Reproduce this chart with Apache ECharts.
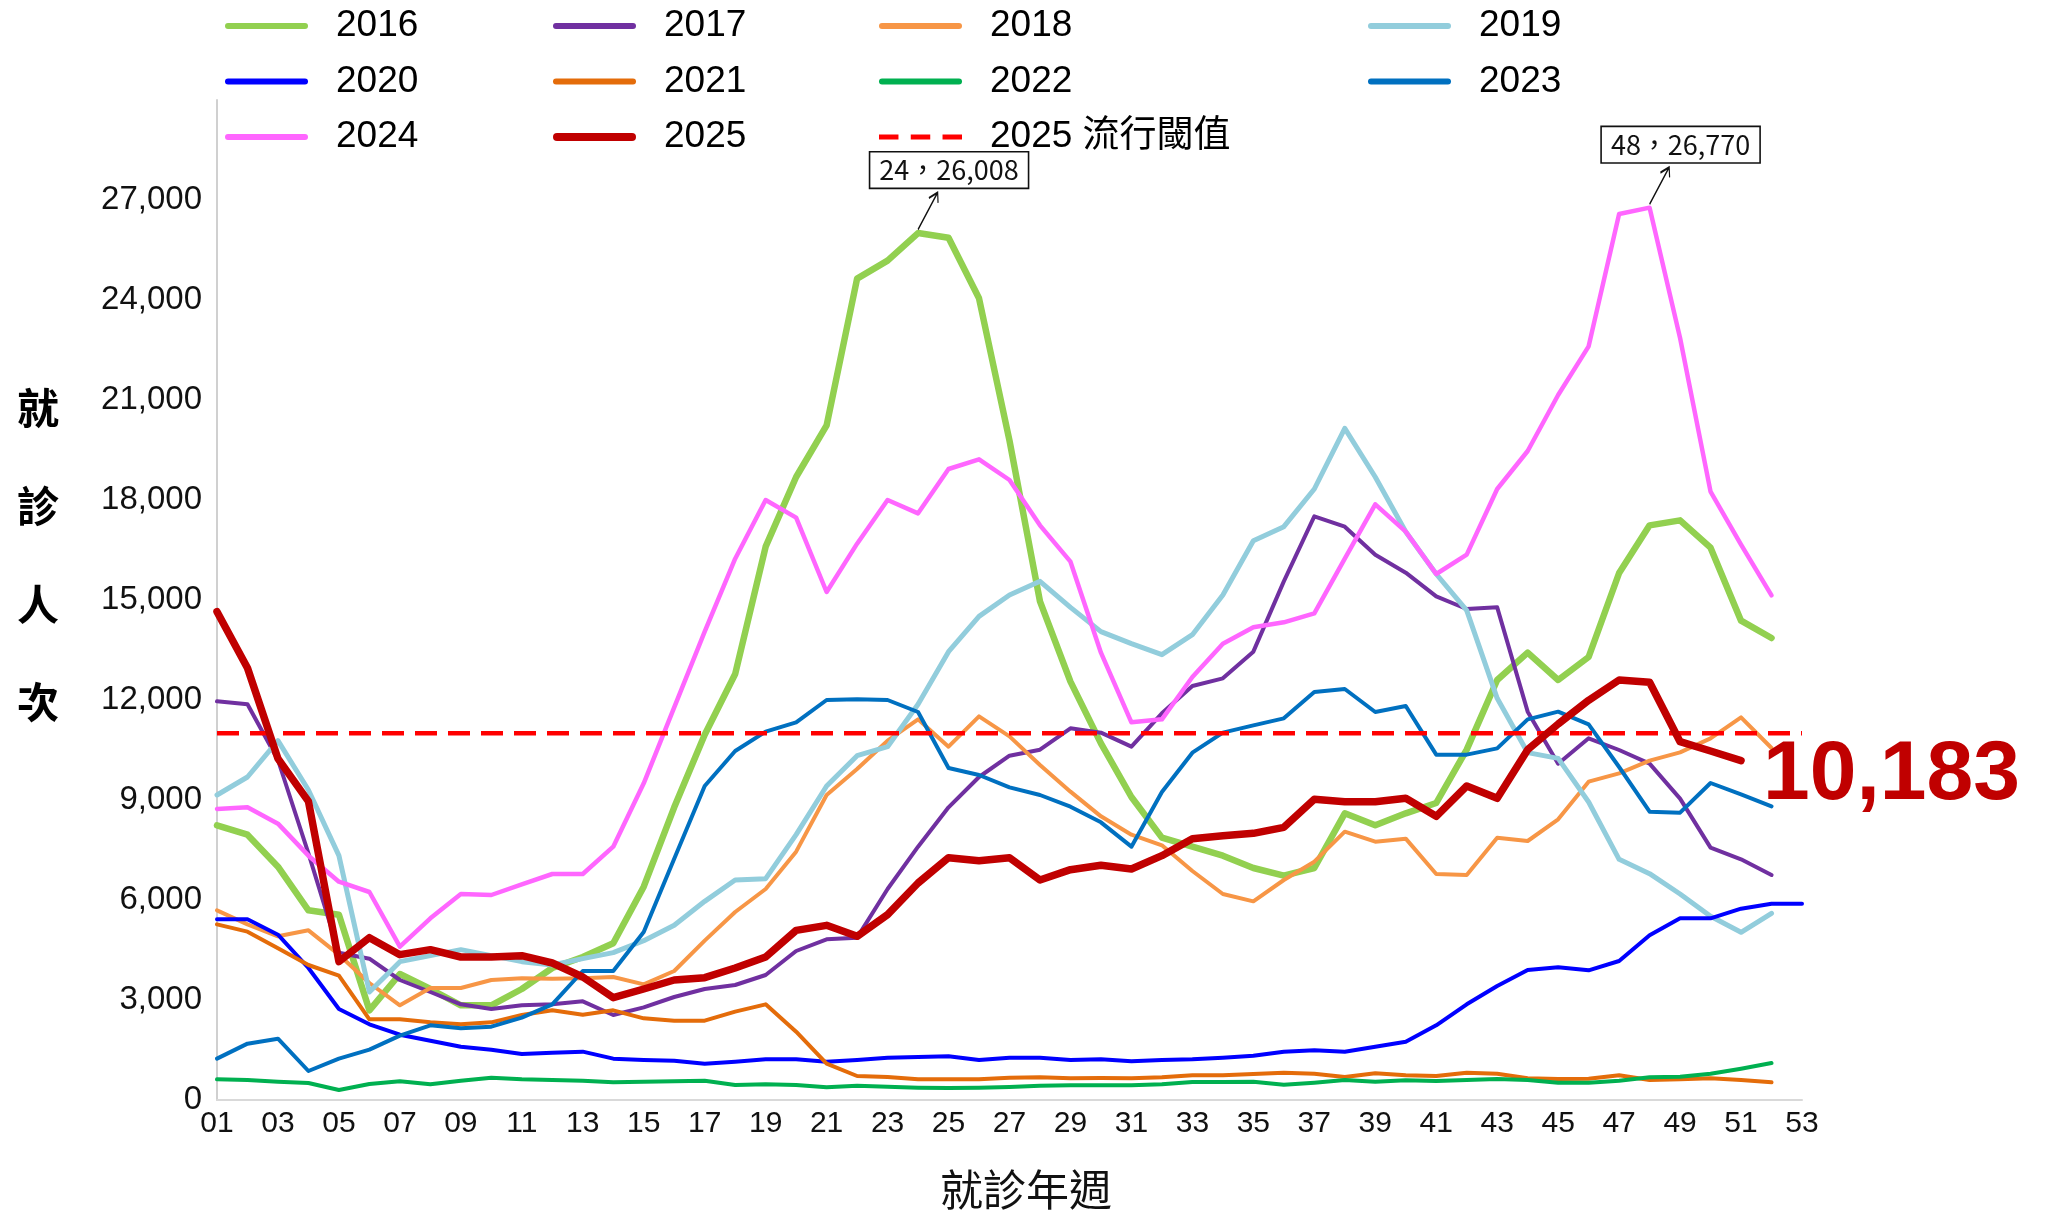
<!DOCTYPE html>
<html>
<head>
<meta charset="utf-8">
<script src="https://cdn.jsdelivr.net/npm/echarts@6/dist/echarts.min.js"></script>
<style>
html,body{margin:0;padding:0;background:#fff;}
#chart{width:2049px;height:1218px;}
</style>
</head>
<body>
<div id="chart"></div>
<script>
// ---------- DATA ----------
const weeks = ['01','02','03','04','05','06','07','08','09','10','11','12','13','14','15','16','17','18','19','20','21','22','23','24','25','26','27','28','29','30','31','32','33','34','35','36','37','38','39','40','41','42','43','44','45','46','47','48','49','50','51','52','53'];
const yTicks = [0, 3000, 6000, 9000, 12000, 15000, 18000, 21000, 24000, 27000];

const v2016 = [8240,7960,7000,5690,5560,2690,3780,3330,2840,2840,3330,3960,4290,4700,6400,8780,10960,12780,16600,18690,20240,24640,25180,26008,25870,24050,19780,14960,12550,10700,9090,7870,7600,7330,6960,6730,6960,8600,8240,8600,8910,10510,12600,13420,12600,13290,15810,17240,17390,16570,14380,13860];
const v2017 = [11960,11870,10200,7400,4420,4240,3600,3240,2870,2730,2840,2870,2960,2550,2780,3090,3330,3450,3750,4470,4820,4870,6330,7600,8780,9690,10330,10510,11150,11020,10600,11600,12420,12650,13450,15560,17510,17200,16360,15820,15110,14730,14780,11650,10090,10850,10500,10090,9040,7570,7220,6750];
const v2018 = [5690,5270,4910,5090,4360,3510,2840,3360,3360,3600,3650,3640,3650,3690,3470,3870,4780,5640,6330,7450,9150,9930,10780,11420,10600,11510,10910,10050,9250,8510,7960,7640,6870,6180,5960,6600,7150,8050,7750,7840,6780,6750,7870,7770,8420,9550,9800,10180,10430,10850,11480,10560];
const v2019 = [9150,9690,10780,9300,7330,3240,4150,4330,4510,4330,4150,4050,4240,4420,4780,5240,5960,6600,6640,7960,9420,10330,10600,11870,13450,14510,15150,15560,14780,14050,13690,13360,13960,15150,16780,17200,18330,20150,18690,17050,15780,14690,12050,10420,10250,8940,7220,6790,6180,5510,5030,5600];
const v2020 = [5420,5420,4960,3960,2730,2270,1960,1780,1600,1510,1380,1420,1450,1240,1200,1180,1090,1150,1220,1220,1150,1200,1270,1290,1310,1200,1270,1270,1200,1220,1160,1200,1220,1270,1330,1450,1490,1450,1600,1750,2240,2870,3420,3900,3980,3890,4170,4940,5450,5450,5740,5890,5890];
const v2021 = [5270,5050,4550,4050,3730,2420,2420,2330,2270,2330,2550,2690,2560,2690,2450,2380,2380,2650,2870,2050,1090,720,690,620,620,620,670,680,650,660,650,680,740,740,780,820,790,690,800,740,720,820,790,650,630,640,740,600,620,650,600,530];
const v2022 = [620,600,550,510,300,480,560,470,580,670,620,600,580,530,550,560,580,450,470,450,380,430,400,370,360,370,390,430,440,440,440,470,540,540,550,460,520,600,550,590,570,600,630,600,520,520,580,680,700,790,940,1110];
const v2023 = [1240,1690,1840,870,1240,1510,1930,2240,2150,2200,2470,2870,3870,3870,5040,7240,9420,10470,11050,11330,12000,12020,12000,11640,9960,9750,9380,9150,8800,8330,7600,9240,10420,11020,11240,11450,12240,12330,11640,11820,10360,10360,10550,11420,11650,11270,9990,8650,8620,9510,9170,8810];
const v2024 = [8730,8780,8290,7330,6550,6240,4600,5450,6180,6150,6470,6780,6780,7600,9500,11780,14050,16240,18000,17470,15240,16690,18000,17600,18930,19220,18600,17240,16150,13420,11330,11420,12690,13690,14180,14330,14600,16240,17870,17050,15780,16360,18330,19470,21150,22610,26580,26770,22860,18250,16660,15140];
const v2025 = [14650,12960,10240,8960,4150,4870,4360,4510,4290,4290,4330,4110,3690,3070,3330,3600,3670,3960,4290,5090,5240,4910,5560,6510,7270,7180,7270,6600,6910,7040,6930,7330,7840,7930,8000,8180,9020,8950,8950,9050,8510,9420,9050,10510,11280,11990,12600,12530,10750,10470,10183];
const threshold2025 = 11000;

const seriesNames = ['2016','2017','2018','2019','2020','2021','2022','2023','2024','2025'];
const seriesValues = [v2016,v2017,v2018,v2019,v2020,v2021,v2022,v2023,v2024,v2025];
const thresholdName = '2025 流行閾值';

// annotated peaks: [series name, week label]
const peakNotes = [['2016','24'], ['2024','48']];

// ---------- STYLE ----------
const colors = {'2016':'#92D050','2017':'#7030A0','2018':'#F79646','2019':'#92CDDC','2020':'#0000FF','2021':'#E46C0A','2022':'#00B050','2023':'#0070C0','2024':'#FF66FF','2025':'#C00000'};
const widths = {'2016':6.5,'2017':4,'2018':4,'2019':5,'2020':4,'2021':4,'2022':4,'2023':4,'2024':4.5,'2025':7.5};
const FONT = "'Liberation Sans', Arial, 'Noto Sans CJK TC', sans-serif";
const CJK = "'Noto Sans CJK TC', 'Liberation Sans', sans-serif";

const iconThin = 'path://M3,0H80A3,3,0,0,1,80,6H3A3,3,0,0,1,3,0Z';
const iconThick = 'path://M4,0H79A4,4,0,0,1,79,8H4A4,4,0,0,1,4,0Z';
const iconDash = 'path://M0,0H19V5H0Z M31,0H50V5H31Z M62,0H81V5H62Z';
const arrowPath = 'path://M0,36L19,0M10.5,5.3L19,0L19.4,10';

function fmt(n){ return Number(n).toLocaleString('en-US'); }

const series = seriesNames.map((name, i) => {
  const s = {
    name, type:'line', data: seriesValues[i], symbol:'none', showSymbol:false,
    lineStyle:{color:colors[name], width:widths[name], cap:'round', join:'round'},
    itemStyle:{color:colors[name]},
    emphasis:{disabled:true}, silent:true,
    z: name === '2025' ? 5 : 2
  };
  const note = peakNotes.find(p => p[0] === name);
  if (note) {
    const idx = weeks.indexOf(note[1]);
    const val = seriesValues[i][idx];
    s.markPoint = {
      silent:true, animation:false,
      data:[
        {coord:[note[1], val], symbol:arrowPath, symbolSize:[20,37], symbolOffset:[10,-22],
         itemStyle:{color:'none', borderColor:'#111', borderWidth:1.6}, label:{show:false}},
        {coord:[note[1], val], symbol:'circle', symbolSize:0,
         label:{show:true, position:'inside', offset:[31,-63], formatter: note[1].replace(/^0/,'') + '，' + fmt(val),
           fontSize:27, fontFamily:CJK, color:'#111', backgroundColor:'#fff', borderColor:'#111', borderWidth:1.6,
           padding:[4,9,4,9]}}
      ]
    };
  }
  if (name === '2025') {
    s.endLabel = {show:true, formatter: p => fmt(p.value), fontSize:84, fontWeight:'bold', color:'#C00000',
      fontFamily:FONT, distance:22, offset:[0,15]};
  }
  return s;
});
// threshold line drawn before 2025
series.splice(9, 0, {
  name: thresholdName, type:'line', data: weeks.map(() => threshold2025), symbol:'none', showSymbol:false,
  lineStyle:{color:'#FF0000', width:4.5, type:[22,11]}, itemStyle:{color:'#FF0000'},
  emphasis:{disabled:true}, silent:true, z:3
});

function legendCol(left, items){
  return {
    orient:'vertical', left, top:2, padding:0, itemGap:7.5, itemWidth:83, itemHeight:8,
    selectedMode:false, z:10,
    textStyle:{fontSize:37, fontFamily:FONT, color:'#000', lineHeight:40, padding:[8,0,0,23]},
    data: items.map(n => ({name:n, icon: n === thresholdName ? iconDash : (n === '2025' ? iconThick : iconThin)}))
  };
}

const option = {
  backgroundColor:'#fff',
  animation:false,
  legend:[
    legendCol(225, ['2016','2020','2024']),
    legendCol(553, ['2017','2021','2025']),
    legendCol(879, ['2018','2022', thresholdName]),
    legendCol(1368, ['2019','2023'])
  ],
  grid:{left:217, right:247, top:100, bottom:118, containLabel:false},
  xAxis:{
    type:'category', data:weeks, boundaryGap:false,
    axisLine:{show:true, lineStyle:{color:'#d9d9d9', width:2}},
    axisTick:{show:false},
    axisLabel:{interval:1, fontSize:30, color:'#111', fontFamily:FONT, margin:9},
    splitLine:{show:false},
    name:'就診年週', nameLocation:'middle', nameGap:68,
    nameTextStyle:{fontSize:43, color:'#111', fontFamily:CJK, padding:[0,0,0,33]}
  },
  yAxis:{
    type:'value', min:0, max:30000, interval:3000,
    axisLine:{show:true, lineStyle:{color:'#d0d0d0', width:2}},
    axisTick:{show:false},
    axisLabel:{fontSize:33, color:'#111', fontFamily:FONT, margin:15, showMaxLabel:false,
      formatter: v => yTicks.includes(v) ? fmt(v) : ''},
    splitLine:{show:false}
  },
  graphic:[{
    type:'text', left:17, top:359, silent:true,
    style:{text:'就\n診\n人\n次', fontSize:42, fontWeight:'bold', lineHeight:98, fill:'#000', fontFamily:CJK}
  }],
  series
};

const chart = echarts.init(document.getElementById('chart'), null, {renderer:'canvas'});
chart.setOption(option);
</script>
</body>
</html>
